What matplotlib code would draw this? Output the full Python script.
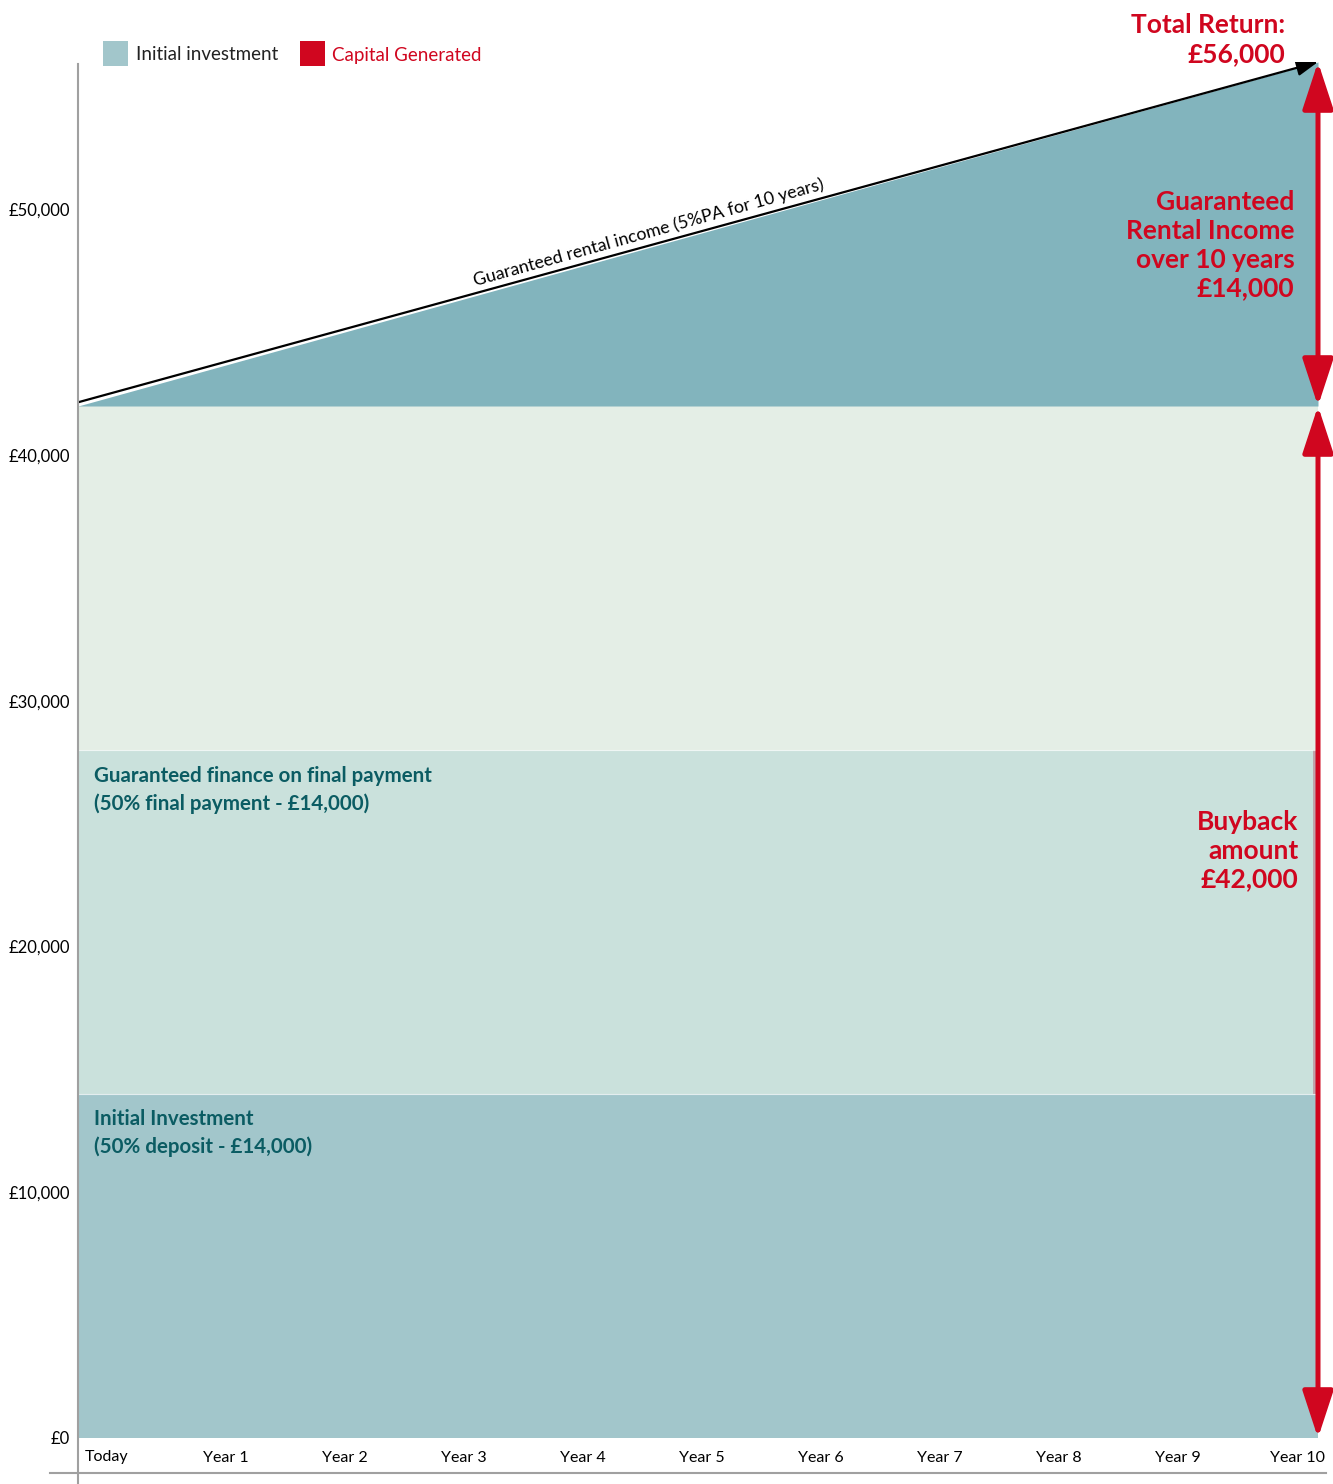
import numpy as np
import matplotlib
matplotlib.use("Agg")
import matplotlib.pyplot as plt
from matplotlib.patches import FancyArrowPatch, Rectangle
from matplotlib.lines import Line2D

plt.rcParams['font.family'] = ['Lato', 'DejaVu Sans']

# data
years = ["Today", "Year 1", "Year 2", "Year 3", "Year 4", "Year 5",
         "Year 6", "Year 7", "Year 8", "Year 9", "Year 10"]
y_ticks = [0, 10000, 20000, 30000, 40000, 50000]
y_tick_labels = ["£0", "£10,000", "£20,000", "£30,000", "£40,000", "£50,000"]
initial_investment = 14000
final_payment_finance = 14000
capital_growth = 14000      # light band, buyback on top of the two halves
rental_income = 14000       # rises 0 -> 14,000 over 10 years
buyback = initial_investment + final_payment_finance + capital_growth
total_return = buyback + rental_income

# colours
c_initial = '#a2c6cb'
c_finance = '#cae1dc'
c_light = '#e4eee6'
c_rental = '#82b4bd'
c_red = '#d0061f'
c_teal = '#0b5c63'
c_axis = '#a0a0a0'

W, H = 1333, 1484
fig = plt.figure(figsize=(W / 100, H / 100), dpi=100)
ax = fig.add_axes([78 / W, (H - 1438) / H, (1318 - 78) / W, (1438 - 62) / H])

x0 = -29 / 119
x1 = 10 + 21 / 119
ax.set_xlim(x0, x1)
ax.set_ylim(0, total_return)
xs = np.array([x0, x1])

ax.fill_between(xs, 0, initial_investment, color=c_initial, lw=0)
ax.fill_between(xs, initial_investment, initial_investment + final_payment_finance,
                color=c_finance, lw=0)
ax.fill_between(xs, initial_investment + final_payment_finance, buyback,
                color=c_light, lw=0)
ax.fill_between(xs, [buyback, buyback], [buyback, total_return], color=c_rental, lw=0)
# thin white separators between bands
ax.axhline(initial_investment, color='white', lw=0.8, alpha=0.7)
ax.axhline(initial_investment + final_payment_finance, color='white', lw=0.8, alpha=0.7)
# dark edge on the finance band
ax.add_patch(Rectangle((x1 - 0.045, initial_investment), 0.045, final_payment_finance,
                       color='#c0a3aa', lw=0))

# rental income line with arrow
ax.add_patch(FancyArrowPatch((x0, buyback + 150), (x1, total_return),
                             arrowstyle='-|>,head_length=13,head_width=5',
                             color='black', lw=1.6, shrinkA=0, shrinkB=0,
                             mutation_scale=1))
ang = np.degrees(np.arctan2((1438 - 62) / total_return * rental_income, (1318 - 78)))
xt = 4.57
ax.text(xt, buyback + rental_income * (xt - x0) / (x1 - x0) + 250,
        "Guaranteed rental income (5%PA for 10 years)", rotation=ang,
        rotation_mode='anchor', ha='center', va='bottom', fontsize=12.8, color='black')

# red double arrows
red_style = '<|-|>,head_length=29,head_width=9.5'
ax.add_patch(FancyArrowPatch((x1, total_return), (x1, buyback), arrowstyle=red_style,
                             color=c_red, lw=3.6, shrinkA=0, shrinkB=0,
                             mutation_scale=1, clip_on=False, zorder=5))
ax.add_patch(FancyArrowPatch((x1, buyback), (x1, 0), arrowstyle=red_style,
                             color=c_red, lw=3.6, shrinkA=0, shrinkB=0,
                             mutation_scale=1, clip_on=False, zorder=5))

# annotations
ax.text(9.90, 58000, "Total Return:\n£%s" % f"{total_return:,}",
        ha='right', va='top', fontsize=19, fontweight='bold', color=c_red,
        linespacing=1.24, clip_on=False)
ax.text(9.98, 50790, "Guaranteed\nRental Income\nover 10 years\n£%s" % f"{rental_income:,}",
        ha='right', va='top', fontsize=19, fontweight='bold', color=c_red,
        linespacing=1.24)
ax.text(10.01, 25560, "Buyback\namount\n£%s" % f"{buyback:,}",
        ha='right', va='top', fontsize=19, fontweight='bold', color=c_red,
        linespacing=1.24)
ax.text(-0.11, 27350, "Guaranteed finance on final payment\n(50%% final payment - £%s)"
        % f"{final_payment_finance:,}",
        ha='left', va='top', fontsize=14.8, fontweight='bold', color=c_teal,
        linespacing=1.45)
ax.text(-0.11, 13400, "Initial Investment\n(50%% deposit - £%s)" % f"{initial_investment:,}",
        ha='left', va='top', fontsize=14.8, fontweight='bold', color=c_teal,
        linespacing=1.45)

# ticks
ax.set_xticks(range(len(years)))
ax.set_xticklabels(years, fontsize=11.5)
ax.set_yticks(y_ticks)
ax.set_yticklabels(y_tick_labels, fontsize=12)
ax.tick_params(axis='x', length=0, pad=9)
ax.tick_params(axis='y', length=0, pad=6)
for s in ax.spines.values():
    s.set_visible(False)

# axis lines
fig.add_artist(Line2D([78 / W, 78 / W], [0, 1 - 64 / H], transform=fig.transFigure,
                      color=c_axis, lw=1.5))
fig.add_artist(Line2D([50 / W, 1326 / W], [1 - 1473 / H] * 2, transform=fig.transFigure,
                      color=c_axis, lw=1.5))

# legend
fig.add_artist(Rectangle((103 / W, 1 - 66 / H), 25 / W, 25 / H, transform=fig.transFigure,
                         color=c_initial, lw=0))
fig.text(136 / W, 1 - 55 / H, "Initial investment", fontsize=13.5, color='#222222',
         va='center', ha='left')
fig.add_artist(Rectangle((300 / W, 1 - 66 / H), 25 / W, 25 / H, transform=fig.transFigure,
                         color=c_red, lw=0))
fig.text(332 / W, 1 - 55 / H, "Capital Generated", fontsize=13.5, color=c_red,
         va='center', ha='left')

fig.savefig("out.png", dpi=100)
